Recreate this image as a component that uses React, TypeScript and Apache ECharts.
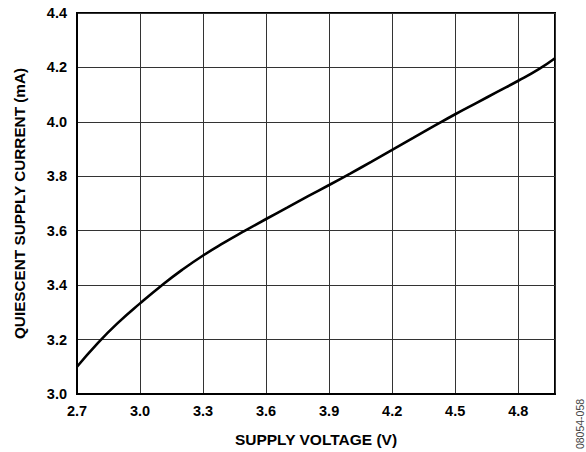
import React, { useEffect, useRef } from "react";
import * as echarts from "echarts";

const voltage = [2.7, 2.8, 2.9, 3.0, 3.1, 3.2, 3.3, 3.4, 3.5, 3.6, 3.7, 3.8, 3.9, 4.0, 4.1, 4.2, 4.3, 4.4, 4.5, 4.6, 4.7, 4.8, 4.9, 4.975];
const current = [3.10, 3.188, 3.265, 3.333, 3.397, 3.456, 3.509, 3.556, 3.600, 3.643, 3.685, 3.727, 3.768, 3.810, 3.853, 3.897, 3.941, 3.985, 4.028, 4.069, 4.110, 4.151, 4.195, 4.234];

const xTitle = "SUPPLY VOLTAGE (V)";
const yTitle = "QUIESCENT SUPPLY CURRENT (mA)";
const figId = "08054-058";

const FONT = "Liberation Sans, Arial, Helvetica, sans-serif";

export default function App() {
  const ref = useRef<HTMLDivElement>(null);
  useEffect(() => {
    if (!ref.current) return;
    const chart = echarts.init(ref.current, undefined, { renderer: "svg" });
    chart.setOption({
      animation: false,
      backgroundColor: "#fff",
      grid: {
        left: 77,
        top: 13,
        right: 31,
        bottom: 58,
        show: true,
        borderColor: "#000",
        borderWidth: 2,
      },
      xAxis: {
        type: "value",
        min: 2.7,
        max: 4.975,
        interval: 0.3,
        name: xTitle,
        nameLocation: "middle",
        nameGap: 37,
        nameTextStyle: { fontFamily: FONT, fontWeight: "bold", fontSize: 15.5, color: "#000" },
        axisLine: { show: true, lineStyle: { color: "#000", width: 2 } },
        axisTick: { show: false },
        axisLabel: {
          margin: 9,
          fontFamily: FONT,
          fontWeight: "bold",
          fontSize: 14.5,
          color: "#000",
          showMaxLabel: false,
          formatter: (v: number) => v.toFixed(1),
        },
        splitLine: { show: true, lineStyle: { color: "#333", width: 1 } },
      },
      yAxis: {
        type: "value",
        min: 3.0,
        max: 4.4,
        interval: 0.2,
        name: yTitle,
        nameLocation: "middle",
        nameGap: 50,
        nameTextStyle: { fontFamily: FONT, fontWeight: "bold", fontSize: 15.3, color: "#000" },
        axisLine: { show: true, lineStyle: { color: "#000", width: 2 } },
        axisTick: { show: false },
        axisLabel: {
          margin: 10,
          fontFamily: FONT,
          fontWeight: "bold",
          fontSize: 14.5,
          color: "#000",
          formatter: (v: number) => v.toFixed(1),
        },
        splitLine: { show: true, lineStyle: { color: "#333", width: 1 } },
      },
      graphic: [
        {
          type: "text",
          x: 580,
          y: 424,
          rotation: Math.PI / 2,
          style: {
            text: figId,
            fontFamily: FONT,
            fontSize: 10.5,
            fill: "#444",
            align: "center",
            verticalAlign: "middle",
          },
        },
      ],
      series: [
        {
          type: "line",
          data: voltage.map((v, i) => [v, current[i]]),
          smooth: 0.5,
          showSymbol: false,
          symbol: "none",
          lineStyle: { color: "#000", width: 2.6 },
          clip: true,
        },
      ],
    });
    return () => chart.dispose();
  }, []);
  return <div ref={ref} style={{ width: 586, height: 452, position: "absolute", left: 0, top: 0 }} />;
}
